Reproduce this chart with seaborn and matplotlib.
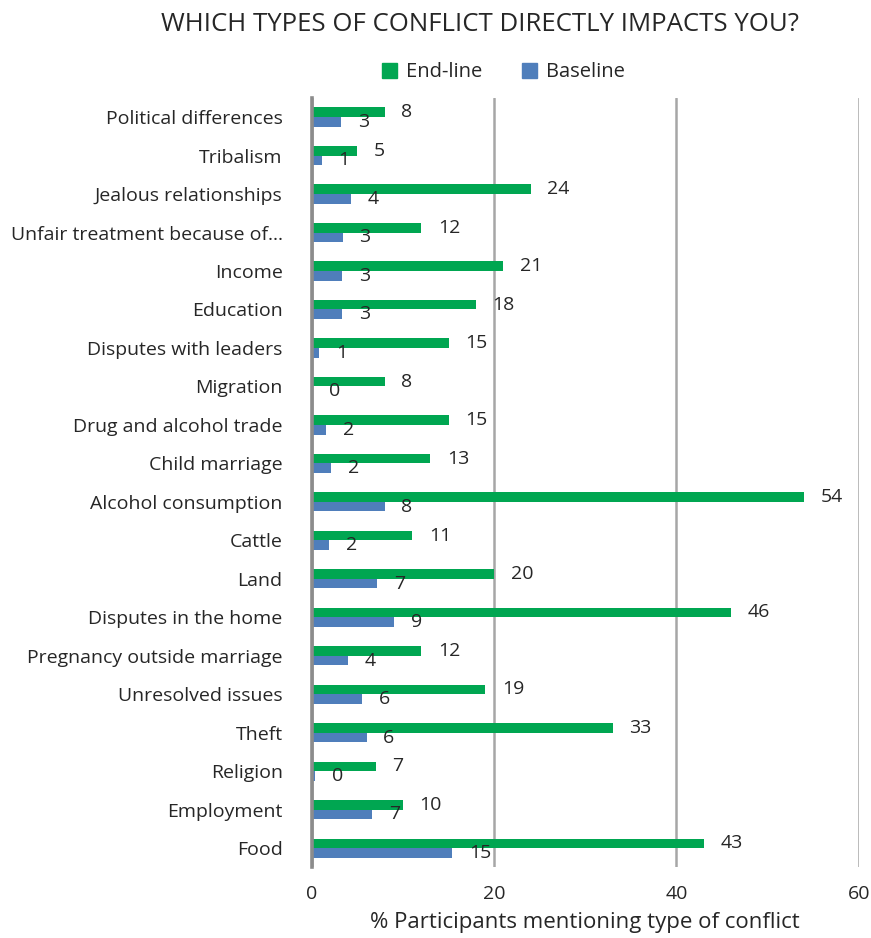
import matplotlib
matplotlib.use('Agg')
import matplotlib.pyplot as plt
import seaborn as sns
import pandas as pd

#categories, top to bottom as they show in the chart
categories = ['Political differences', 'Tribalism', 'Jealous relationships',
              'Unfair treatment because of\u2026', 'Income', 'Education',
              'Disputes with leaders', 'Migration', 'Drug and alcohol trade',
              'Child marriage', 'Alcohol consumption', 'Cattle', 'Land',
              'Disputes in the home', 'Pregnancy outside marriage',
              'Unresolved issues', 'Theft', 'Religion', 'Employment', 'Food']

#% participants
endline = [8, 5, 24, 12, 21, 18, 15, 8, 15, 13, 54, 11, 20, 46, 12, 19, 33, 7, 10, 43]
baseline = [3.2, 1.1, 4.3, 3.4, 3.3, 3.3, 0.8, 0.05, 1.6, 2.1, 8.0, 1.9, 7.2, 9.0,
            4.0, 5.5, 6.0, 0.35, 6.6, 15.4]

series = ['End-line', 'Baseline']
colors = ['#00A651', '#4F7EBB']

#long format for seaborn
df = pd.DataFrame({
    'Category': categories * 2,
    'Value': endline + baseline,
    'Series': [series[0]] * len(categories) + [series[1]] * len(categories),
})

sns.set_style('white')
plt.rcParams['font.family'] = ['Open Sans', 'DejaVu Sans']
text_color = '#262626'

fig = plt.figure(figsize=(8.71, 9.38), dpi=100)
ax = fig.add_axes([0.358, 0.0753, 0.628, 0.8204])

sns.barplot(data=df, y='Category', x='Value', hue='Series', order=categories,
            hue_order=series, palette=colors, width=0.5, orient='h',
            saturation=1, linewidth=0, ax=ax, legend=False)

#data labels
for cont in ax.containers:
    ax.bar_label(cont, fmt='%.0f', padding=12, fontsize=14, color=text_color)

ax.set_xlim(0, 60)
ax.set_xticks([0, 20, 40, 60])
ax.xaxis.grid(True, color='#a6a6a6', linewidth=1.8)
ax.set_axisbelow(True)
for s in ['top', 'right', 'bottom']:
    ax.spines[s].set_visible(False)
ax.spines['left'].set_color('#8c8c8c')
ax.spines['left'].set_linewidth(2.6)
ax.spines['left'].set_zorder(5)
ax.tick_params(axis='y', length=0, pad=21, labelsize=14, labelcolor=text_color)
ax.tick_params(axis='x', length=0, pad=13, labelsize=14, labelcolor=text_color)
ax.set_ylabel('')
ax.set_xlabel('% Participants mentioning type of conflict', fontsize=16,
              color=text_color, labelpad=6)

#legend
handles = [plt.Rectangle((0, 0), 1, 1, color=c) for c in colors]
fig.legend(handles, series, loc='center', bbox_to_anchor=(0.578, 0.923), ncol=2,
           frameon=False, fontsize=14.5, handlelength=0.75, handleheight=0.75,
           handletextpad=0.45, columnspacing=2.0, labelcolor=text_color)

fig.text(0.551, 0.974, 'WHICH TYPES OF CONFLICT DIRECTLY IMPACTS YOU?',
         ha='center', va='center', fontsize=18.5, color=text_color)

fig.savefig('out.png', dpi=100)
